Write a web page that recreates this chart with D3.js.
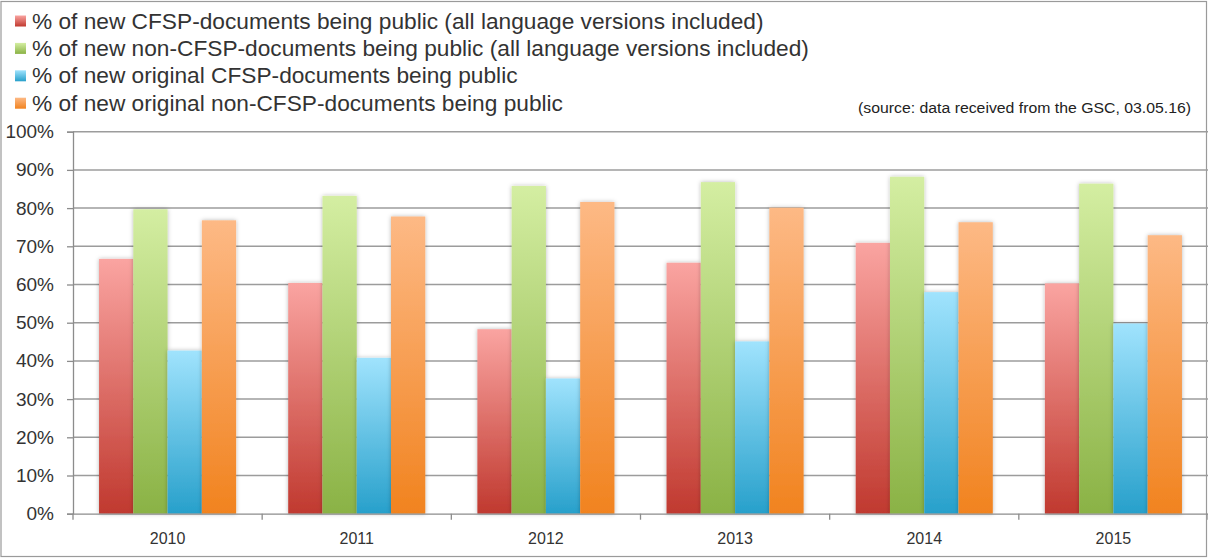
<!DOCTYPE html>
<html>
<head>
<meta charset="utf-8">
<script src="https://cdn.jsdelivr.net/npm/d3@7/dist/d3.min.js"></script>
<style>
  html, body { margin: 0; padding: 0; background: #fff; }
  svg { display: block; }
</style>
</head>
<body>
<svg id="chart" width="1208" height="558"></svg>
<script>
// Share of newly produced Council documents made public, per year
const years = ["2010", "2011", "2012", "2013", "2014", "2015"];
const seriesNames = [
  "% of new CFSP-documents being public (all language versions included)",
  "% of new non-CFSP-documents being public (all language versions included)",
  "% of new original CFSP-documents being public",
  "% of new original non-CFSP-documents being public"
];
const cfspAll        = [66.7, 60.4, 48.3, 65.7, 70.9, 60.3];
const nonCfspAll     = [79.7, 83.2, 85.8, 86.8, 88.2, 86.4];
const cfspOriginal   = [42.7, 40.8, 35.4, 45.1, 58.0, 49.8];
const nonCfspOriginal= [76.8, 77.8, 81.6, 80.1, 76.3, 72.9];
const yTicks = [0, 10, 20, 30, 40, 50, 60, 70, 80, 90, 100];
const sourceNote = "(source: data received from the GSC, 03.05.16)";

const seriesValues = [cfspAll, nonCfspAll, cfspOriginal, nonCfspOriginal];
const keys = ["s0", "s1", "s2", "s3"];
// light (top) and dark (bottom) shades of each series
const shades = [
  ["#faa4a1", "#c0392f"],
  ["#d4eea2", "#8ab245"],
  ["#a0e3fd", "#27a0cb"],
  ["#fdb985", "#f1831f"]
];

const svg = d3.select("#chart");
const plot = { left: 73, right: 1208, top: 131.7, bottom: 513.7 };

const defs = svg.append("defs");
keys.forEach((k, i) => {
  const g = defs.append("linearGradient")
    .attr("id", "grad-" + k)
    .attr("x1", 0).attr("y1", 0).attr("x2", 0).attr("y2", 1);
  g.append("stop").attr("offset", "0%").attr("stop-color", shades[i][0]);
  g.append("stop").attr("offset", "100%").attr("stop-color", shades[i][1]);
});
const shadow = defs.append("filter").attr("id", "barShadow")
  .attr("x", "-30%").attr("y", "-10%").attr("width", "160%").attr("height", "120%");
shadow.append("feDropShadow")
  .attr("dx", 0).attr("dy", 0).attr("stdDeviation", 2.2)
  .attr("flood-color", "#000").attr("flood-opacity", 0.28);

// outer frame
svg.append("rect")
  .attr("x", 1).attr("y", 1.5).attr("width", 1205.5).attr("height", 555)
  .attr("fill", "#fff").attr("stroke", "#9a9a9a").attr("stroke-width", 1.2);

// scales
const x0 = d3.scaleBand().domain(years).range([plot.left, plot.right]).padding(0);
const x1 = d3.scaleBand().domain(keys).range([0, x0.bandwidth()])
  .paddingInner(0).paddingOuter(0.76);
const y = d3.scaleLinear().domain([0, 100]).range([plot.bottom, plot.top]);

// horizontal gridlines
svg.append("g")
  .selectAll("line")
  .data(yTicks.filter(d => d > 0))
  .join("line")
  .attr("x1", plot.left).attr("x2", plot.right)
  .attr("y1", d => y(d)).attr("y2", d => y(d))
  .attr("stroke", "#9c9c9c").attr("stroke-width", 1.5);

// y axis
const yAxis = svg.append("g")
  .attr("transform", `translate(${plot.left},0)`)
  .call(d3.axisLeft(y).tickValues(yTicks).tickFormat(d => d + "%").tickSize(6).tickPadding(13));
yAxis.select(".domain").attr("stroke", "#8c8c8c").attr("stroke-width", 1.3);
yAxis.selectAll(".tick line").attr("stroke", "#8c8c8c").attr("stroke-width", 1.3);
yAxis.selectAll(".tick text")
  .attr("font-family", "'Liberation Sans', Arial, sans-serif")
  .attr("font-size", 19).attr("fill", "#333");

// bars
const groups = svg.append("g")
  .selectAll("g")
  .data(years)
  .join("g")
  .attr("transform", d => `translate(${x0(d)},0)`);

groups.selectAll("rect")
  .data((yr, yi) => keys.map((k, si) => ({ key: k, value: seriesValues[si][yi] })))
  .join("rect")
  .attr("x", d => x1(d.key))
  .attr("width", x1.bandwidth())
  .attr("y", d => y(d.value))
  .attr("height", d => y(0) - y(d.value))
  .attr("fill", d => `url(#grad-${d.key})`)
  .attr("filter", "url(#barShadow)");

// x axis
const xAxis = svg.append("g")
  .attr("transform", `translate(0,${plot.bottom})`)
  .call(d3.axisBottom(x0).tickSize(0).tickPadding(19));
xAxis.select(".domain").attr("stroke", "#8c8c8c").attr("stroke-width", 1.3);
xAxis.selectAll(".tick text")
  .attr("font-family", "'Liberation Sans', Arial, sans-serif")
  .attr("font-size", 16).attr("fill", "#333");
// category separators below the axis
svg.append("g")
  .selectAll("line")
  .data(years.map(d => x0(d)).concat([plot.right]))
  .join("line")
  .attr("x1", d => d).attr("x2", d => d)
  .attr("y1", plot.bottom).attr("y2", plot.bottom + 6)
  .attr("stroke", "#8c8c8c").attr("stroke-width", 1.3);

// legend
const legend = svg.append("g");
const legendRows = legend.selectAll("g")
  .data(seriesNames)
  .join("g")
  .attr("transform", (d, i) => `translate(15,${20.5 + i * 27.4})`);
legendRows.append("rect")
  .attr("x", 0).attr("y", -5).attr("width", 11).attr("height", 11)
  .attr("fill", (d, i) => `url(#grad-${keys[i]})`);
legendRows.append("text")
  .attr("x", 17).attr("y", 0).attr("dy", "0.36em")
  .attr("font-family", "'Liberation Sans', Arial, sans-serif")
  .attr("font-size", 22.7).attr("fill", "#333")
  .text(d => d);

// source note
svg.append("text")
  .attr("x", 858).attr("y", 108).attr("dy", "0.35em")
  .attr("font-family", "'Liberation Sans', Arial, sans-serif")
  .attr("font-size", 14).attr("fill", "#222")
  .attr("textLength", 333).attr("lengthAdjust", "spacingAndGlyphs")
  .text(sourceNote);
</script>
</body>
</html>
